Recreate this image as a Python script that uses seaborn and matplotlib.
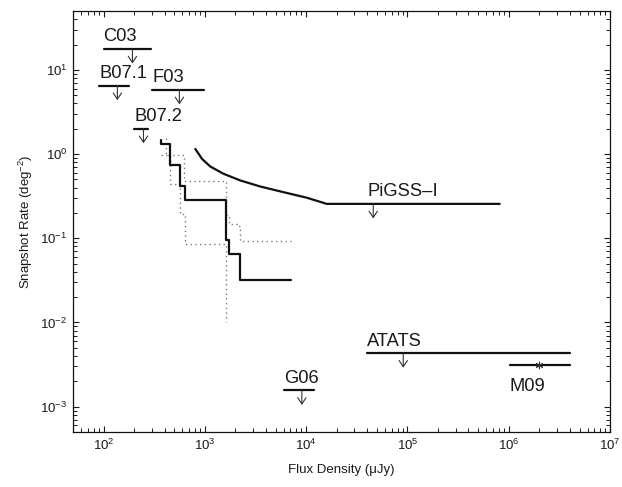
import matplotlib
matplotlib.use("Agg")
import matplotlib.pyplot as plt
import seaborn as sns

# ---------------- data ----------------
# Upper-limit surveys: horizontal bar with a downward arrow
lim_names = ["C03", "B07.1", "F03", "B07.2", "G06", "ATATS"]
lim_x_start = [100, 91, 304, 202, 6070, 40200]
lim_x_end = [297, 180, 988, 277, 12000, 4.0e6]
lim_rate = [17.7, 6.5, 5.8, 2.0, 0.00156, 0.00432]
lim_arrow_x = [193, 137, 561, 248, 9080, 91000]

# M09 measurement
m09_name = "M09"
m09_x_range = [1.02e6, 4.0e6]
m09_rate = 0.00312
m09_point_x = 2.0e6

# PiGSS-I limit curve
pigss_name = "PiGSS\u2013I"
pigss_flux = [806, 938, 1133, 1531, 2240, 3524, 5970, 10160, 16000, 815000]
pigss_rate = [1.15, 0.877, 0.711, 0.583, 0.486, 0.412, 0.353, 0.303, 0.256, 0.256]
pigss_arrow_x = 46000
pigss_label_x = 40800

# Solid step function
step_flux = [370, 370, 450, 565, 638, 1603, 1730, 2240, 7060]
step_rate = [1.47, 1.32, 0.75, 0.416, 0.282, 0.0966, 0.0648, 0.0322, 0.0322]

# Dotted envelopes
up_flux = [417, 417, 617, 1603, 1730, 2075, 2240, 7060]
up_rate = [1.56, 0.986, 0.477, 0.187, 0.146, 0.139, 0.092, 0.092]
low_flux = [370, 450, 574, 643, 1603]
low_rate = [0.986, 0.444, 0.196, 0.0866, 0.0102]

# ---------------- style ----------------
sns.set_theme(style="ticks")
plt.rcParams["font.family"] = ["Liberation Sans", "DejaVu Sans"]
plt.rcParams["mathtext.fontset"] = "custom"
plt.rcParams["mathtext.rm"] = "Liberation Sans"
plt.rcParams["mathtext.it"] = "Liberation Sans:italic"

fig, ax = plt.subplots(figsize=(6.22, 4.87), dpi=100)
fig.subplots_adjust(left=0.1174, right=0.9807, top=0.9774, bottom=0.1129)
ax.set_xscale("log")
ax.set_yscale("log")

LINE = "#111111"
LW = 1.6

# dotted envelopes
for fx, fr in [(up_flux, up_rate), (low_flux, low_rate)]:
    sns.lineplot(x=fx, y=fr, estimator=None, sort=False, ax=ax,
                 drawstyle="steps-post", color="#7a7a7a", lw=1.0,
                 linestyle=(0, (1, 2.4)))

# solid step
sns.lineplot(x=step_flux, y=step_rate, estimator=None, sort=False, ax=ax,
             drawstyle="steps-post", color=LINE, lw=LW)

# PiGSS-I curve
sns.lineplot(x=pigss_flux, y=pigss_rate, estimator=None, sort=False, ax=ax,
             color=LINE, lw=LW)

arrow_props = dict(arrowstyle="<-,head_length=0.45,head_width=0.3",
                   lw=0.8, color="#333333", shrinkA=0, shrinkB=0,
                   mutation_scale=10)
LABEL_FS = 13.2

def down_arrow(x, y):
    ax.annotate("", xy=(x, y), xytext=(0, -10.5), textcoords="offset points",
                arrowprops=arrow_props)

# limit bars
for name, x0, x1, r, ax_x in zip(lim_names, lim_x_start, lim_x_end,
                                 lim_rate, lim_arrow_x):
    sns.lineplot(x=[x0, x1], y=[r, r], estimator=None, sort=False, ax=ax,
                 color=LINE, lw=LW)
    down_arrow(ax_x, r)
    ax.annotate(name, xy=(x0, r), xytext=(0, 5.5), textcoords="offset points",
                ha="left", va="baseline", fontsize=LABEL_FS, color="#1a1a1a")

# PiGSS arrow & label
down_arrow(pigss_arrow_x, pigss_rate[-1])
ax.annotate(pigss_name, xy=(pigss_label_x, pigss_rate[-1]), xytext=(0, 5.5),
            textcoords="offset points", ha="left", va="baseline",
            fontsize=LABEL_FS, color="#1a1a1a")

# M09
sns.lineplot(x=m09_x_range, y=[m09_rate, m09_rate], estimator=None, sort=False,
             ax=ax, color=LINE, lw=LW)
sns.scatterplot(x=[m09_point_x], y=[m09_rate], marker=(6, 2, 0), s=22,
                color="#333333", linewidth=0.8, ax=ax, zorder=5)
ax.annotate(m09_name, xy=(m09_x_range[0], m09_rate), xytext=(0, -18.5),
            textcoords="offset points", ha="left", va="baseline",
            fontsize=LABEL_FS, color="#1a1a1a")

# axes
ax.set_xlim(50, 1e7)
ax.set_ylim(5e-4, 50)
ax.set_xlabel("Flux Density (\u03bcJy)", fontsize=9.5, color="#1a1a1a", labelpad=8)
ax.set_ylabel("Snapshot Rate (deg$^{-2}$)", fontsize=9.5, color="#1a1a1a", labelpad=4)
ax.tick_params(which="both", direction="in", top=True, right=True,
               labelsize=9.5, colors="#1a1a1a", pad=4)
ax.tick_params(which="major", length=4.3, width=0.8)
ax.tick_params(which="minor", length=2.6, width=0.7)
for sp in ax.spines.values():
    sp.set_linewidth(0.9)
    sp.set_color("#111111")

fig.savefig("out.png", dpi=100, facecolor="white")
